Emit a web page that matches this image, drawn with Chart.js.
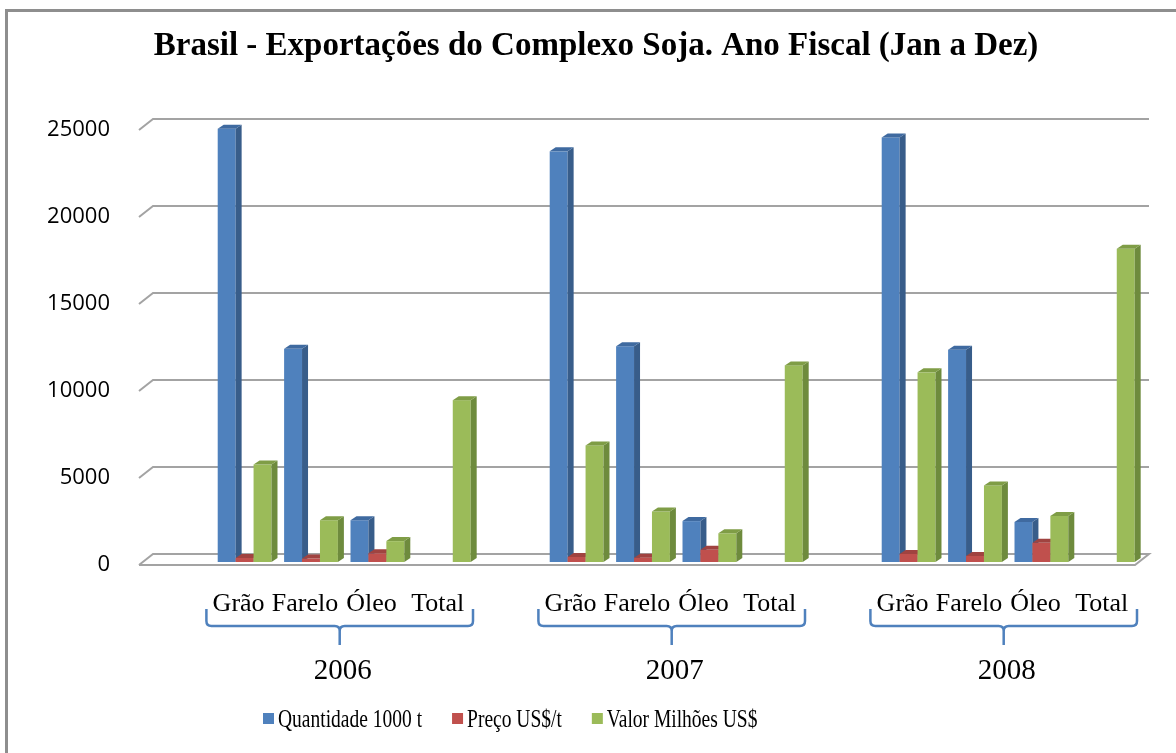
<!DOCTYPE html>
<html>
<head>
<meta charset="utf-8">
<script src="https://cdn.jsdelivr.net/npm/chart.js@4.4.0/dist/chart.umd.min.js"></script>
<style>
  html, body { margin: 0; padding: 0; background: #fff; overflow: hidden; }
  #frame { position: absolute; left: 5px; top: 9px; width: 1300px; height: 900px;
           border-left: 3px solid #8e8e8e; border-top: 3px solid #8e8e8e; }
  #wrap { position: absolute; left: 0; top: 0; width: 1176px; height: 753px; }
</style>
</head>
<body>
<div id="frame"></div>
<div id="wrap"><canvas id="sojaChart" width="1176" height="753"></canvas></div>
<script>
// chart data
const chartTitle = 'Brasil - Exportações do Complexo Soja. Ano Fiscal (Jan a Dez)';
const years = ['2006', '2007', '2008'];
const products = ['Grão', 'Farelo', 'Óleo', 'Total'];
const seriesNames = ['Quantidade 1000 t', 'Preço US$/t', 'Valor Milhões US$'];
const quantidade = [24900, 12250, 2400, null, 23600, 12400, 2350, null, 24400, 12200, 2300, null];
const preco = [230, 200, 500, null, 290, 250, 700, null, 460, 350, 1100, null];
const valor = [5600, 2400, 1200, 9300, 6700, 2900, 1650, 11300, 10900, 4400, 2650, 18000];
const yTicks = [0, 5000, 10000, 15000, 20000, 25000];

const colors = ['#4f81bd', '#c0504d', '#9bbb59'];
const sideColors = ['#385d8a', '#8c3a38', '#6e8b3d'];
const capColors = ['#3f6aa0', '#a04340', '#7f9d46'];

// one empty slot in front and between the years
function spread(values) {
  let out = [null];
  years.forEach(function(y, g) {
    if (g > 0) out.push(null);
    for (let k = 0; k < products.length; k++) out.push(values[g * products.length + k]);
  });
  return out;
}
function slotLabels() {
  let out = [''];
  years.forEach(function(y, g) {
    if (g > 0) out.push('');
    products.forEach(function(p) { out.push(p); });
  });
  return out;
}

const BX = 6, BY = 4;       // bar depth
const WX = 14, WY = 11;     // wall depth
const SX = 6, SY = -3;      // bars stand half way into the floor

// back wall grid lines and floor
const wallPlugin = {
  id: 'wall',
  beforeDatasetsDraw(chart) {
    const ctx = chart.ctx, ys = chart.scales.y, a = chart.chartArea;
    ctx.save();
    ctx.strokeStyle = '#a3a3a3';
    ctx.lineWidth = 2;
    ys.ticks.forEach(function(t) {
      const y = ys.getPixelForValue(t.value);
      ctx.beginPath();
      ctx.moveTo(a.left, y);
      ctx.lineTo(a.left + WX, y - WY);
      ctx.lineTo(a.right + WX, y - WY);
      if (t.value === 0) {
        ctx.lineTo(a.right, y);
        ctx.lineTo(a.left, y);
      }
      ctx.stroke();
    });
    ctx.restore();
  }
};

// bars with side and top faces, drawn left to right
const barsPlugin = {
  id: 'bars3d',
  beforeDatasetDraw() { return false; },
  afterDatasetsDraw(chart) {
    const ctx = chart.ctx;
    const n = chart.data.labels.length;
    ctx.save();
    ctx.translate(SX, SY);
    for (let i = 0; i < n; i++) {
      for (let d = 0; d < chart.data.datasets.length; d++) {
        if (chart.data.datasets[d].data[i] == null) continue;
        const el = chart.getDatasetMeta(d).data[i];
        const p = el.getProps(['x', 'y', 'base', 'width'], true);
        const l = p.x - p.width / 2, r = p.x + p.width / 2;
        ctx.fillStyle = colors[d];
        ctx.fillRect(l, p.y, r - l, p.base - p.y);
        ctx.fillStyle = sideColors[d];
        ctx.beginPath();
        ctx.moveTo(r, p.y); ctx.lineTo(r + BX, p.y - BY);
        ctx.lineTo(r + BX, p.base - BY); ctx.lineTo(r, p.base);
        ctx.closePath(); ctx.fill();
        ctx.fillStyle = capColors[d];
        ctx.beginPath();
        ctx.moveTo(l, p.y); ctx.lineTo(l + BX, p.y - BY);
        ctx.lineTo(r + BX, p.y - BY); ctx.lineTo(r, p.y);
        ctx.closePath(); ctx.fill();
      }
    }
    ctx.restore();
  }
};

// narrow serif text, as in the original legend
function condensedText(ctx, text, x, y, sx) {
  ctx.save();
  ctx.translate(x, y);
  ctx.scale(sx, 1);
  ctx.fillText(text, 0, 0);
  ctx.restore();
  return ctx.measureText(text).width * sx;
}

// title, year brackets, year labels and legend
const extrasPlugin = {
  id: 'extras',
  afterDraw(chart) {
    const ctx = chart.ctx, xs = chart.scales.x;
    const half = (xs.getPixelForValue(1) - xs.getPixelForValue(0)) / 2;
    ctx.save();

    ctx.fillStyle = '#000';
    ctx.font = 'bold 33px "Liberation Serif"';
    ctx.textAlign = 'center';
    ctx.textBaseline = 'alphabetic';
    ctx.fillText(chartTitle, 596, 55);

    years.forEach(function(year, g) {
      const start = 1 + g * (products.length + 1);
      const xL = xs.getPixelForValue(start) - half + 1;
      const xR = xs.getPixelForValue(start + products.length - 1) + half + 2;
      const xc = (xL + xR) / 2;
      ctx.strokeStyle = '#4f81bd';
      ctx.lineWidth = 2.5;
      ctx.beginPath();
      ctx.moveTo(xL, 609); ctx.lineTo(xL, 621);
      ctx.quadraticCurveTo(xL, 626, xL + 5, 626);
      ctx.lineTo(xc - 5, 626);
      ctx.quadraticCurveTo(xc, 626, xc, 631);
      ctx.lineTo(xc, 645);
      ctx.moveTo(xR, 609); ctx.lineTo(xR, 621);
      ctx.quadraticCurveTo(xR, 626, xR - 5, 626);
      ctx.lineTo(xc + 5, 626);
      ctx.quadraticCurveTo(xc, 626, xc, 631);
      ctx.stroke();
      ctx.fillStyle = '#000';
      ctx.font = '29px "Liberation Serif"';
      ctx.textAlign = 'center';
      ctx.textBaseline = 'middle';
      ctx.fillText(year, xc + 3, 671);
    });

    // legend
    let x = 263;
    const y = 720;
    ctx.font = '25px "Liberation Serif"';
    ctx.textAlign = 'left';
    ctx.textBaseline = 'middle';
    chart.data.datasets.forEach(function(ds, d) {
      ctx.fillStyle = colors[d];
      ctx.fillRect(x, y - 7, 11, 11);
      ctx.fillStyle = '#000';
      const w = condensedText(ctx, ds.label, x + 15, y, 0.78);
      x += 15 + w + 30;
    });
    ctx.restore();
  }
};

let elChart = document.getElementById('sojaChart').getContext('2d');

let sojaChart = new Chart(elChart, {
  type: 'bar',
  data: {
    labels: slotLabels(),
    datasets: [
      { label: seriesNames[0], data: spread(quantidade), backgroundColor: colors[0] },
      { label: seriesNames[1], data: spread(preco), backgroundColor: colors[1] },
      { label: seriesNames[2], data: spread(valor), backgroundColor: colors[2] }
    ]
  },
  options: {
    responsive: false,
    animation: false,
    categoryPercentage: 0.81,
    barPercentage: 1.0,
    layout: { padding: { left: 0, right: 41, top: 130, bottom: 0 } },
    plugins: {
      legend: { display: false },
      tooltip: { enabled: false },
      title: { display: false }
    },
    scales: {
      x: {
        grid: { display: false, drawTicks: false },
        border: { display: false },
        ticks: {
          autoSkip: false, maxRotation: 0, minRotation: 0,
          padding: 24, color: '#000',
          font: { family: '"Liberation Serif"', size: 26 }
        },
        afterFit: function(s) { s.height = 753 - 565; }
      },
      y: {
        min: 0,
        max: 25000,
        grid: { display: false, drawTicks: false },
        border: { display: false },
        ticks: {
          padding: 29, color: '#000',
          font: { family: '"Open Sans"', size: 22 },
          callback: function(v) { return String(v); }
        },
        afterBuildTicks: function(s) { s.ticks = yTicks.map(function(v) { return { value: v }; }); },
        afterFit: function(s) { s.width = 139; }
      }
    }
  },
  plugins: [wallPlugin, barsPlugin, extrasPlugin]
});
</script>
</body>
</html>
